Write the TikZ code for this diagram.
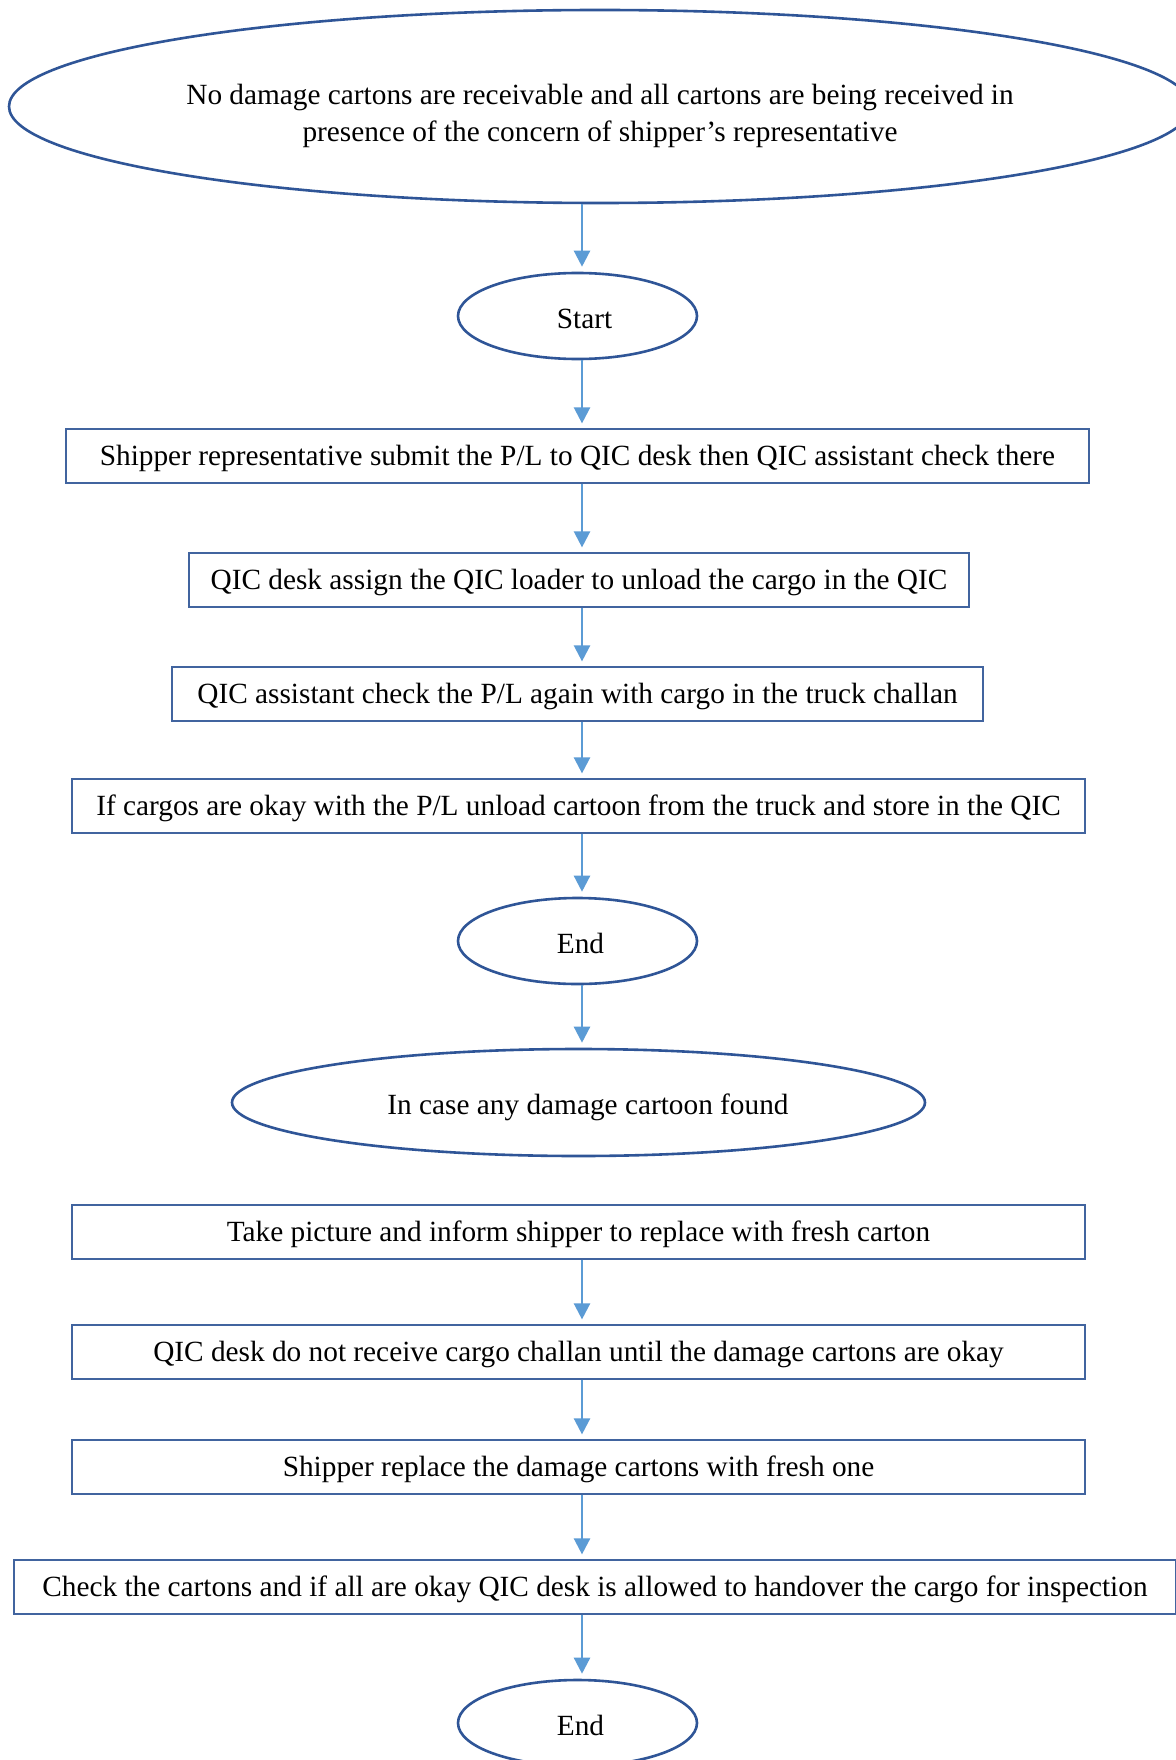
\documentclass[tikz,border=0pt]{standalone}
\usepackage{fontspec}
\setmainfont{Liberation Serif}
\usetikzlibrary{arrows.meta,shapes.geometric}
\definecolor{edgeblue}{HTML}{2F5597}
\definecolor{boxblue}{HTML}{41649F}
\definecolor{arrblue}{HTML}{5B9BD5}
\tikzset{
  oval/.style={ellipse, draw=edgeblue, line width=2.6pt, inner sep=0pt, align=center},
  oneline/.style={text height=26pt, text depth=2pt},
  stepbox/.style={rectangle, draw=boxblue, line width=1.2pt, inner sep=0pt, minimum height=54pt, text height=26pt, text depth=6.5pt},
  arr/.style={draw=arrblue, line width=2.4pt, -{Triangle[width=16pt,length=16pt]}, shorten >=5pt},
}
\begin{document}
\begin{tikzpicture}[x=1pt,y=-1pt,font=\fontsize{29.3}{37}\selectfont]
\useasboundingbox (0,0) rectangle (1175,1760);
\fill[white] (0,0) rectangle (1175,1760);
\coordinate (ax) at (582,0);
\node[oval, minimum width=1182pt, minimum height=193pt] (top) at (600,106.5)
  {\rule{0pt}{39.5pt}No damage cartons are receivable and all cartons are being received in\\presence of the concern of shipper’s representative};
\node[oval, oneline, minimum width=239pt, minimum height=86pt] (start) at (577.5,316) {\hspace*{14pt}Start};
\node[stepbox, minimum width=1023pt] (b1) at (577.5,456) {Shipper representative submit the P/L to QIC desk then QIC assistant check there};
\node[stepbox, minimum width=780pt] (b2) at (579,580) {QIC desk assign the QIC loader to unload the cargo in the QIC};
\node[stepbox, minimum width=811pt] (b3) at (577.5,694) {QIC assistant check the P/L again with cargo in the truck challan};
\node[stepbox, minimum width=1013pt] (b4) at (578.5,806) {If cargos are okay with the P/L unload cartoon from the truck and store in the QIC};
\node[oval, oneline, minimum width=239pt, minimum height=86pt] (end1) at (577.5,941) {\hspace*{6pt}End};
\node[oval, oneline, minimum width=693pt, minimum height=107pt] (dmg) at (578.5,1102.5) {\hspace*{19pt}In case any damage cartoon found};
\node[stepbox, minimum width=1013pt] (b5) at (578.5,1232) {Take picture and inform shipper to replace with fresh carton};
\node[stepbox, minimum width=1013pt] (b6) at (578.5,1352) {QIC desk do not receive cargo challan until the damage cartons are okay};
\node[stepbox, minimum width=1013pt] (b7) at (578.5,1467) {Shipper replace the damage cartons with fresh one};
\node[stepbox, minimum width=1162pt] (b8) at (595,1587) {Check the cartons and if all are okay QIC desk is allowed to handover the cargo for inspection};
\node[oval, oneline, minimum width=239pt, minimum height=86pt] (end2) at (577.5,1723) {\hspace*{6pt}End};
\draw[arr] (top.south -| ax) -- (start.north -| ax);
\draw[arr] (start.south -| ax) -- (b1.north -| ax);
\draw[arr] (b1.south -| ax) -- (b2.north -| ax);
\draw[arr] (b2.south -| ax) -- (b3.north -| ax);
\draw[arr] (b3.south -| ax) -- (b4.north -| ax);
\draw[arr] (b4.south -| ax) -- (end1.north -| ax);
\draw[arr] (end1.south -| ax) -- (dmg.north -| ax);
\draw[arr] (b5.south -| ax) -- (b6.north -| ax);
\draw[arr] (b6.south -| ax) -- (b7.north -| ax);
\draw[arr] (b7.south -| ax) -- (b8.north -| ax);
\draw[arr] (b8.south -| ax) -- (end2.north -| ax);
\end{tikzpicture}
\end{document}
